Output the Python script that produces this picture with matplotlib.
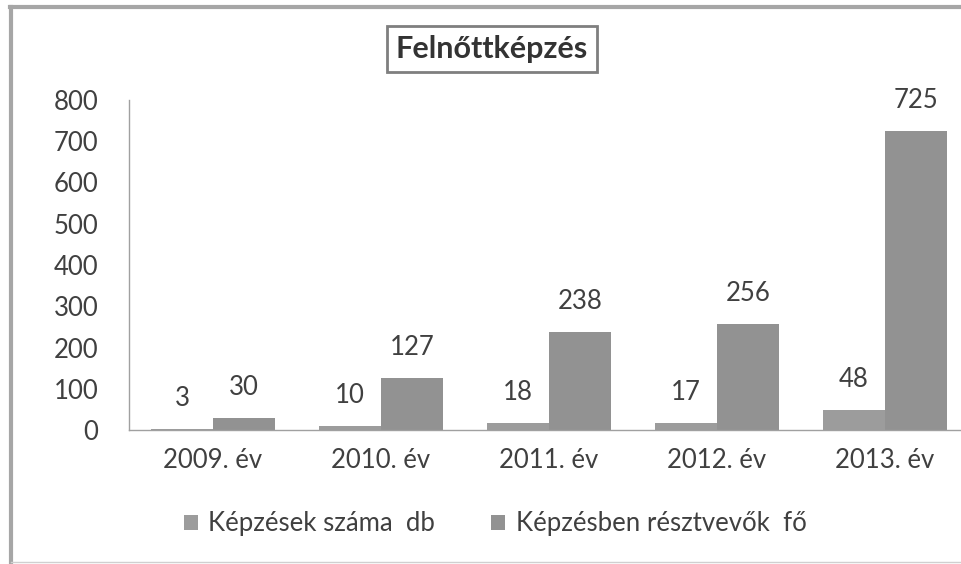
import numpy as np
import matplotlib.pyplot as plt
from matplotlib.lines import Line2D

years = ["2009. év", "2010. év", "2011. év", "2012. év", "2013. év"]
kepzesek = [3, 10, 18, 17, 48]
resztvevok = [30, 127, 238, 256, 725]
series_names = ["Képzések száma  db", "Képzésben résztvevők  fő"]

plt.rcParams['font.family'] = ['Lato', 'DejaVu Sans']
txt = '#404040'
fs = 18.5

W, H = 961, 564
fig = plt.figure(figsize=(W / 100, H / 100), dpi=100)
ax = fig.add_axes([129 / W, 134 / H, 840 / W, 330 / H])

x = np.arange(len(years))
bw = 0.37
b1 = ax.bar(x - bw / 2, kepzesek, bw, color='#9c9c9c', label=series_names[0])
b2 = ax.bar(x + bw / 2, resztvevok, bw, color='#929292', label=series_names[1])

for bars, vals in ((b1, kepzesek), (b2, resztvevok)):
    for r, v in zip(bars, vals):
        ax.annotate(str(v), (r.get_x() + r.get_width() / 2, v), xytext=(0, 13),
                    textcoords='offset points', ha='center', va='bottom',
                    fontsize=fs, color=txt)

ax.set_xlim(-0.5, 4.5)
ax.set_ylim(0, 800)
ax.set_yticks(range(0, 801, 100))
ax.set_xticks(x)
ax.set_xticklabels(years)
ax.tick_params(axis='both', length=0, labelsize=fs, labelcolor=txt)
ax.tick_params(axis='y', pad=22)
ax.tick_params(axis='x', pad=13)
for s in ('top', 'right'):
    ax.spines[s].set_visible(False)
for s in ('left', 'bottom'):
    ax.spines[s].set_color('#a0a0a0')
    ax.spines[s].set_linewidth(1)

fig.legend(handles=[b1, b2], loc='center', bbox_to_anchor=(495 / W, 1 - 524 / H),
           ncol=2, frameon=False, fontsize=fs, handlelength=0.55, handleheight=0.55,
           handletextpad=0.4, columnspacing=2.2, labelcolor=txt)

fig.text(492 / W, 1 - 49 / H, "Felnőttképzés", ha='center', va='center', fontsize=22,
         fontweight='bold', color='#333333',
         bbox=dict(boxstyle='square,pad=0.3', fc='white', ec='#7f7f7f', lw=2))

# outer frame: heavy left/top, faint bottom
fig.add_artist(Line2D([11 / W, 11 / W], [0, 1 - 7 / H], transform=fig.transFigure,
                      color='#a6a6a6', lw=3))
fig.add_artist(Line2D([10 / W, 1], [1 - 7 / H, 1 - 7 / H], transform=fig.transFigure,
                      color='#a6a6a6', lw=3))
fig.add_artist(Line2D([11 / W, 1], [2 / H, 2 / H], transform=fig.transFigure,
                      color='#d0d0d0', lw=1))

fig.savefig('out.png', dpi=100)
